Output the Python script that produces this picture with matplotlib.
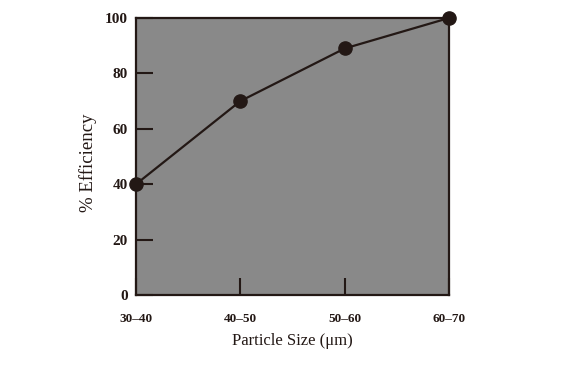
import matplotlib
matplotlib.use("Agg")
import matplotlib.pyplot as plt

categories = ["30\u201340", "40\u201350", "50\u201360", "60\u201370"]
efficiency = [40, 70, 89, 100]
yticks = [0, 20, 40, 60, 80, 100]

ink = "#231815"
plt.rcParams["font.family"] = ["Liberation Serif", "DejaVu Serif"]

fig = plt.figure(figsize=(5.76, 3.70), dpi=100)
ax = fig.add_axes([136/576, 75/370, (449-136)/576, (295-18)/370])
ax.set_facecolor("#898989")

x = list(range(len(categories)))
ax.plot(x, efficiency, color=ink, lw=1.6, marker="o", ms=9.5, mfc=ink, mec=ink, clip_on=False, zorder=5)

ax.set_xlim(0, len(categories) - 1)
ax.set_ylim(0, 100)
ax.set_xticks(x)
ax.set_xticklabels(categories, fontsize=9.5, fontweight="bold")
ax.set_yticks(yticks)
ax.set_yticklabels([str(v) for v in yticks], fontsize=11, fontweight="bold")
ax.tick_params(axis="both", direction="in", length=12, width=1.5, color=ink, labelcolor=ink)
ax.tick_params(axis="x", pad=13)
ax.tick_params(axis="y", pad=6)
for s in ax.spines.values():
    s.set_linewidth(1.6)
    s.set_color(ink)

ax.set_xlabel("Particle Size (\u03bcm)", fontsize=12, color=ink)
ax.xaxis.set_label_coords(0.5, -38/277)
ax.set_ylabel("% Efficiency", fontsize=13.5, color=ink, va="center")
ax.yaxis.set_label_coords(-48/313, 0.476)

fig.savefig("out.png", dpi=100)
